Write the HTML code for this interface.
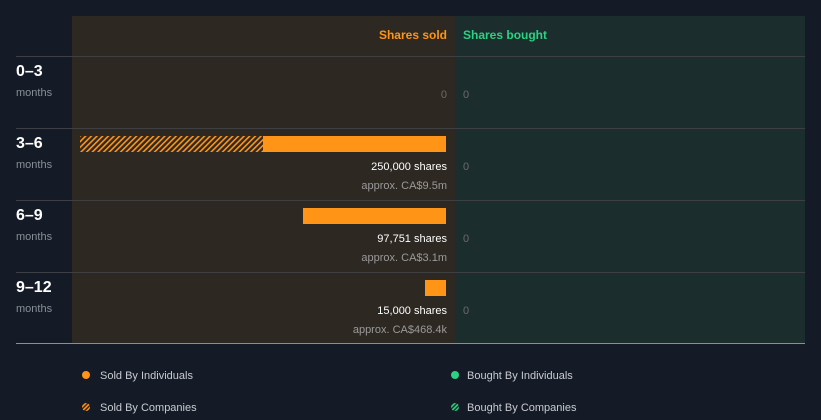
<!DOCTYPE html>
<html><head><meta charset="utf-8"><style>
html,body{margin:0;padding:0;background:#151b26;}
svg{display:block;font-family:"Liberation Sans",sans-serif;}
</style></head><body>
<svg width="821" height="420" viewBox="0 0 821 420" xmlns="http://www.w3.org/2000/svg">
<defs>
<pattern id="h" patternUnits="userSpaceOnUse" width="4" height="4" patternTransform="rotate(45)">
<rect width="4" height="4" fill="#2d2822"/><rect width="1.6" height="4" fill="#ff9416"/>
</pattern>
<pattern id="h2" patternUnits="userSpaceOnUse" width="3" height="3" patternTransform="rotate(45)">
<rect width="3" height="3" fill="#3a2a18"/><rect width="1.5" height="3" fill="#ff9416"/>
</pattern>
<pattern id="hg" patternUnits="userSpaceOnUse" width="3" height="3" patternTransform="rotate(45)">
<rect width="3" height="3" fill="#183a2c"/><rect width="1.5" height="3" fill="#2bd282"/>
</pattern>
</defs>
<rect width="821" height="420" fill="#151b26"/>
<rect x="72" y="16" width="383" height="327" fill="#2d2822"/>
<rect x="455" y="16" width="350" height="327" fill="#1b2d2c"/>
<g stroke="#3e3f42" stroke-width="1">
<line x1="16" y1="56.5" x2="805" y2="56.5"/>
<line x1="16" y1="128.5" x2="805" y2="128.5"/>
<line x1="16" y1="200.5" x2="805" y2="200.5"/>
<line x1="16" y1="272.5" x2="805" y2="272.5"/>
</g>
<line x1="16" y1="343.5" x2="805" y2="343.5" stroke="#8a8f96" stroke-width="1"/>
<text x="447" y="39" text-anchor="end" fill="#ff9416" font-size="12" font-weight="bold">Shares sold</text>
<text x="463" y="39" fill="#2bd282" font-size="12" font-weight="bold">Shares bought</text>
<g fill="#ffffff" font-size="16" font-weight="bold">
<text x="16" y="76">0–3</text><text x="16" y="148">3–6</text><text x="16" y="220">6–9</text><text x="16" y="292">9–12</text>
</g>
<g fill="#8a8f96" font-size="11">
<text x="16" y="96">months</text><text x="16" y="168">months</text><text x="16" y="240">months</text><text x="16" y="312">months</text>
</g>
<g fill="#6b6b6b" font-size="11">
<text x="447" y="98" text-anchor="end">0</text>
<text x="463" y="98">0</text><text x="463" y="170">0</text><text x="463" y="242">0</text><text x="463" y="314">0</text>
</g>
<rect x="80" y="136" width="183" height="16" fill="url(#h)"/>
<rect x="263" y="136" width="183" height="16" fill="#ff9416"/>
<rect x="303" y="208" width="143" height="16" fill="#ff9416"/>
<rect x="425" y="280" width="21" height="16" fill="#ff9416"/>
<g font-size="11" text-anchor="end">
<text x="447" y="170" fill="#ffffff">250,000 shares</text>
<text x="447" y="189" fill="#9a9a9a">approx. CA$9.5m</text>
<text x="447" y="242" fill="#ffffff">97,751 shares</text>
<text x="447" y="261" fill="#9a9a9a">approx. CA$3.1m</text>
<text x="447" y="314" fill="#ffffff">15,000 shares</text>
<text x="447" y="333" fill="#9a9a9a">approx. CA$468.4k</text>
</g>
<circle cx="86" cy="375" r="4" fill="#ff9416"/>
<circle cx="455" cy="375" r="4" fill="#2bd282"/>
<circle cx="86" cy="407" r="4" fill="url(#h2)"/>
<circle cx="455" cy="407" r="4" fill="url(#hg)"/>
<g fill="#c8cbd0" font-size="11">
<text x="100" y="379">Sold By Individuals</text>
<text x="467" y="379">Bought By Individuals</text>
<text x="100" y="411">Sold By Companies</text>
<text x="467" y="411">Bought By Companies</text>
</g>
</svg>
</body></html>
